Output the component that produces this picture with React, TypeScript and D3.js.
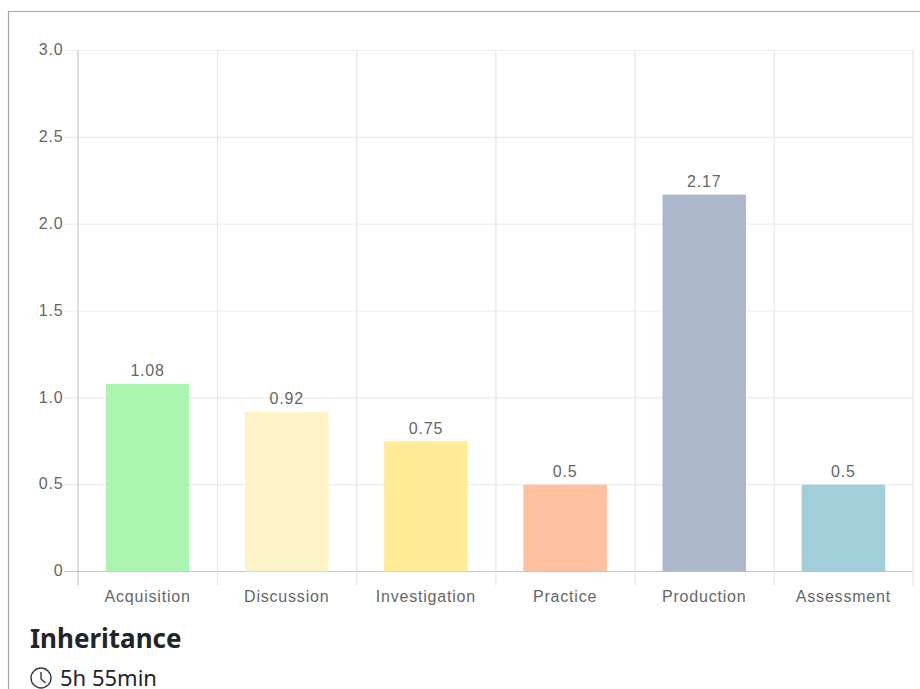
import React from "react";
import * as d3 from "d3";

const categories = ["Acquisition", "Discussion", "Investigation", "Practice", "Production", "Assessment"];
const hours = [1.08, 0.92, 0.75, 0.5, 2.17, 0.5];
const barColors = ["#abf5b1", "#fcf3c7", "#ffec94", "#ffc09f", "#adb8ca", "#a0ced9"];
const yTicks = [0, 0.5, 1, 1.5, 2, 2.5, 3];
const title = "Inheritance";
const duration = "5h 55min";

const plot = { left: 78, right: 913, top: 50.5, bottom: 571.5 };
const labelFont = "'Liberation Sans', Arial, sans-serif";
const headingFont = "'Noto Sans', sans-serif";
const labelProps = { fontFamily: labelFont, fontSize: 16, letterSpacing: 0.8, fill: "#666" };

export default function App() {
  const x = d3
    .scaleBand<string>()
    .domain(categories)
    .range([plot.left, plot.right])
    .paddingInner(0.4)
    .paddingOuter(0.2);
  const y = d3.scaleLinear().domain([0, 3]).range([plot.bottom, plot.top]);
  const step = x.step();
  const edges = d3.range(categories.length + 1).map((i) => plot.left + i * step);

  return (
    <svg
      width={920}
      height={689}
      style={{ position: "absolute", left: 0, top: 0, display: "block" }}
    >
      <rect width={920} height={689} fill="#fff" />
      {/* card outline: left and top edges stay inside the frame */}
      <path d="M8.5 689V11.5H920" fill="none" stroke="#a6a6a6" strokeWidth={1.2} />

      {/* horizontal grid and tick marks */}
      {yTicks.map((t) => (
        <g key={t}>
          <line
            x1={plot.left - 14}
            x2={plot.right}
            y1={y(t)}
            y2={y(t)}
            stroke={t === 0 ? "#c4c4c4" : "#ececec"}
            strokeWidth={1.2}
          />
          <text x={63.5} y={y(t)} dy="0.3em" textAnchor="end" {...labelProps}>
            {t === 0 ? "0" : t.toFixed(1)}
          </text>
        </g>
      ))}

      {/* vertical grid */}
      {edges.map((e, i) => (
        <line
          key={i}
          x1={i === 0 || i === categories.length ? e : e + 0.4}
          x2={i === 0 || i === categories.length ? e : e + 0.4}
          y1={plot.top}
          y2={plot.bottom + 14}
          stroke={i === 0 ? "#c8c8c8" : "#e6e6e6"}
          strokeWidth={1.2}
        />
      ))}

      {/* bars with value labels */}
      {categories.map((c, i) => (
        <g key={c}>
          <rect
            x={x(c)}
            y={y(hours[i])}
            width={x.bandwidth()}
            height={y(0) - y(hours[i])}
            fill={barColors[i]}
          />
          <text
            x={x(c)! + x.bandwidth() / 2}
            y={y(hours[i]) - 7.5}
            textAnchor="middle"
            {...labelProps}
          >
            {hours[i]}
          </text>
          <text x={x(c)! + x.bandwidth() / 2} y={601.5} textAnchor="middle" {...labelProps}>
            {c}
          </text>
        </g>
      ))}

      <text x={30} y={648} fontFamily={headingFont} fontSize={26} fontWeight={700} fill="#212529">
        {title}
      </text>

      {/* clock icon beside the duration */}
      <g fill="none" stroke="#343a40" strokeWidth={1.4}>
        <circle cx={41} cy={678} r={10} />
        <path d="M41 672V679L45.5 683" />
      </g>
      <text x={60} y={686} fontFamily={headingFont} fontSize={22} fill="#212529">
        {duration}
      </text>
    </svg>
  );
}
